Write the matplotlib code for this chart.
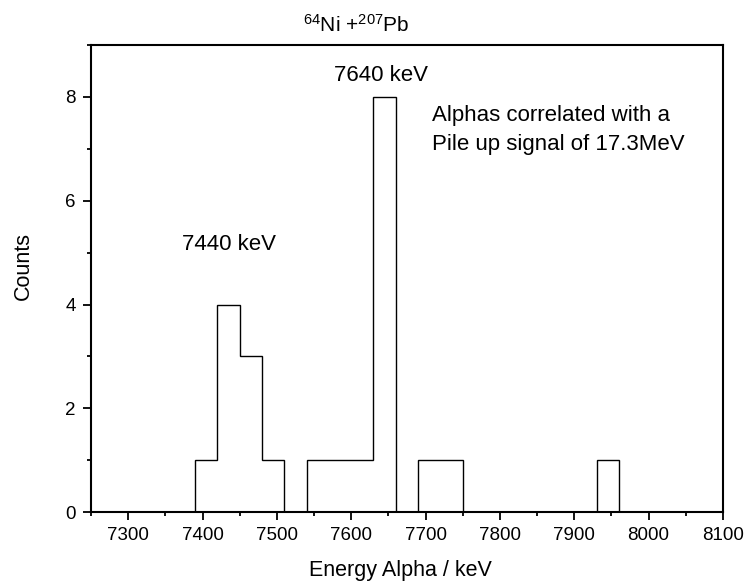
import matplotlib
matplotlib.use("Agg")
import matplotlib.pyplot as plt
from matplotlib.ticker import MultipleLocator

plt.rcParams['font.family'] = ['Liberation Sans', 'DejaVu Sans']
plt.rcParams['mathtext.fontset'] = 'custom'
plt.rcParams['mathtext.rm'] = 'Liberation Sans'
plt.rcParams['mathtext.default'] = 'regular'

# histogram of alpha energies, 30 keV bins
bin_edges = [7390, 7420, 7450, 7480, 7510, 7540, 7570, 7600, 7630, 7660,
             7690, 7720, 7750, 7780, 7810, 7840, 7870, 7900, 7930, 7960]
counts = [1, 4, 3, 1, 0, 1, 1, 1, 8, 0, 1, 1, 0, 0, 0, 0, 0, 0, 1]

peak_labels = ["7440 keV", "7640 keV"]
peak_x = [7436, 7640]
peak_y = [5.05, 8.3]

fig = plt.figure(figsize=(7.46, 5.84), dpi=100)
ax = fig.add_axes([0.122, 0.123, 0.847, 0.800])

ax.stairs(counts, bin_edges, color='black', linewidth=1.0, baseline=0)

ax.set_xlim(7250, 8100)
ax.set_ylim(0, 9)
ax.xaxis.set_major_locator(MultipleLocator(100))
ax.xaxis.set_minor_locator(MultipleLocator(50))
ax.yaxis.set_major_locator(MultipleLocator(2))
ax.yaxis.set_minor_locator(MultipleLocator(1))
ax.tick_params(which='major', direction='out', length=6, width=1.3,
               labelsize=13.5, pad=5)
ax.tick_params(which='minor', direction='out', length=3, width=1.3)
for sp in ax.spines.values():
    sp.set_linewidth(1.5)

ax.set_xlabel("Energy Alpha / keV", fontsize=15.5)
ax.xaxis.set_label_coords(0.49, -0.103)
ax.set_ylabel("Counts", fontsize=15.5)
ax.yaxis.set_label_coords(-0.09, 0.527)

ax.text(0.42, 1.028, r"$^{64}$Ni +$^{207}$Pb", transform=ax.transAxes,
        fontsize=15, ha='center', va='baseline')

for lab, x, y in zip(peak_labels, peak_x, peak_y):
    ax.text(x, y, lab, fontsize=16, ha='center', va='baseline')
ax.text(7709, 6.98, "Alphas correlated with a\nPile up signal of 17.3MeV",
        fontsize=16, ha='left', va='baseline', linespacing=1.5)

fig.savefig("out.png", dpi=100)
